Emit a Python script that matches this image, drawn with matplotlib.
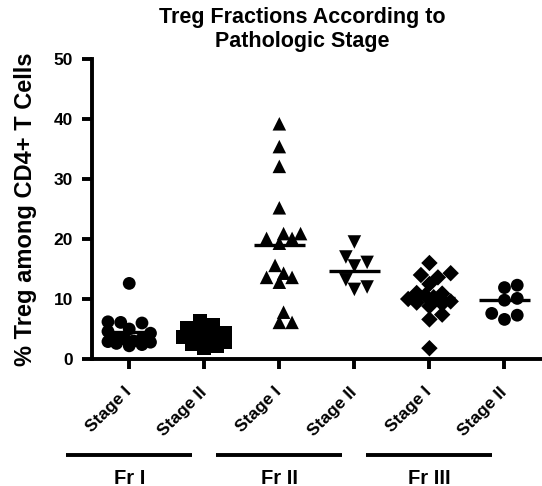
import numpy as np
import matplotlib
matplotlib.use("Agg")
import matplotlib.pyplot as plt
from matplotlib.transforms import blended_transform_factory

plt.rcParams['font.family'] = ['Liberation Sans', 'DejaVu Sans']
plt.rcParams['font.weight'] = 'bold'

# ---------------- data ----------------
title = "Treg Fractions According to\nPathologic Stage"
ylabel = "% Treg among CD4+ T Cells"
tick_labels = ["Stage I", "Stage II", "Stage I", "Stage II", "Stage I", "Stage II"]
group_labels = ["Fr I", "Fr II", "Fr III"]

fr1_stage1 = [12.6, 6.2, 6.0, 6.1, 5.0, 4.6, 4.3, 3.6, 3.3, 3.0, 2.8, 2.6, 2.4, 2.2, 3.4, 2.9]
fr1_stage2 = [6.3, 5.6, 5.2, 4.6, 4.4, 4.2, 4.0, 3.7, 3.3, 2.9, 2.5, 2.1, 1.8]
fr2_stage1 = [39.2, 35.4, 32.1, 25.2, 20.9, 20.9, 20.1, 20.1, 19.3, 15.6, 14.3,
              13.6, 13.6, 12.8, 7.8, 6.1, 6.1]
fr2_stage2 = [19.5, 17.0, 16.1, 15.5, 13.2, 12.0, 11.6]
fr3_stage1 = [16.0, 14.3, 14.0, 13.6, 12.5, 11.0, 10.9, 10.6, 10.3, 10.0, 9.6,
              9.4, 9.2, 8.8, 7.4, 6.6, 1.8]
fr3_stage2 = [12.3, 11.9, 10.1, 9.8, 7.6, 6.6, 7.3]
center_lines = [4.5, 4.1, 19.0, 14.6, 10.2, 9.9]

series = [fr1_stage1, fr1_stage2, fr2_stage1, fr2_stage2, fr3_stage1, fr3_stage2]
markers = ['o', 's', '^', 'v', 'D', 'o']
marker_sizes = [85, 100, 95, 95, 70, 85]

# ---------------- figure ----------------
W, H, DPI = 542, 486, 100
fig = plt.figure(figsize=(W / DPI, H / DPI), dpi=DPI)
ax = fig.add_axes([91.7 / W, 127 / H, 1 - 91.7 / W, (359 - 59) / H])
ax.set_xlim(-0.5, 5.5)
ax.set_ylim(0, 50)

px_per_x = (W - 91.7) / 6.0
px_per_y = (359 - 59) / 50.0


def swarm_offsets(vals, diam_px=12.5, step_frac=0.34, max_k=5, min_frac=0.85):
    vals = np.asarray(vals, float)
    order = np.argsort(vals)
    placed = []
    offs = np.zeros(len(vals))
    step = diam_px * step_frac
    cands = [0]
    for k in range(1, max_k + 1):
        cands += [k, -k]
    for idx in order:
        ypx = vals[idx] * px_per_y
        best, best_d = None, -1
        chosen = None
        for k in cands:
            xpx = k * step
            if placed:
                d = min(np.hypot(xpx - p[0], ypx - p[1]) for p in placed)
            else:
                d = 1e9
            if d >= min_frac * diam_px:
                chosen = xpx
                break
            if d > best_d:
                best_d, best = d, xpx
        if chosen is None:
            chosen = best
        placed.append((chosen, ypx))
        offs[idx] = chosen / px_per_x
    return offs


for i, vals in enumerate(series):
    offs = swarm_offsets(vals)
    ax.scatter(i + offs, vals, marker=markers[i], s=marker_sizes[i],
               color='black', edgecolors='none', zorder=3, clip_on=False)
    ax.plot([i - 0.34, i + 0.34], [center_lines[i], center_lines[i]],
            color='black', lw=2.4, zorder=4, solid_capstyle='butt')

# axes styling
for sp in ['top', 'right']:
    ax.spines[sp].set_visible(False)
for sp in ['left', 'bottom']:
    ax.spines[sp].set_linewidth(2.8)
ax.set_yticks([0, 10, 20, 30, 40, 50])
ax.set_yticklabels([str(v) for v in [0, 10, 20, 30, 40, 50]], fontsize=12.5, fontweight='bold')
ax.set_xticks(range(6))
ax.set_xticklabels(tick_labels, rotation=45, ha='right', va='center',
                   rotation_mode='anchor', fontsize=12.5, fontweight='bold')
ax.tick_params(axis='y', direction='out', length=7, width=2.8, pad=6.5)
ax.tick_params(axis='x', direction='out', length=7, width=2.8, pad=15)

ax.set_ylabel(ylabel, fontsize=17, fontweight='bold')
ax.yaxis.set_label_coords(-(91.7 - 37) / (W - 91.7), 0.5)

fig.text(302 / W, 1 - 7 / H, title, ha='center', va='top', fontsize=15.5,
         fontweight='bold', linespacing=1.2)

# group bars and labels
trans = blended_transform_factory(ax.transData, fig.transFigure)
for g, lab in enumerate(group_labels):
    c = 2 * g
    ax.plot([c - 0.84, c + 0.84], [1 - 455 / H, 1 - 455 / H], color='black', lw=2.8,
            transform=trans, clip_on=False, solid_capstyle='butt')
    ax.text(c, 1 - 478 / H, lab, transform=trans, ha='center', va='center',
            fontsize=14.5, fontweight='bold')

fig.savefig("out.png", dpi=DPI)
